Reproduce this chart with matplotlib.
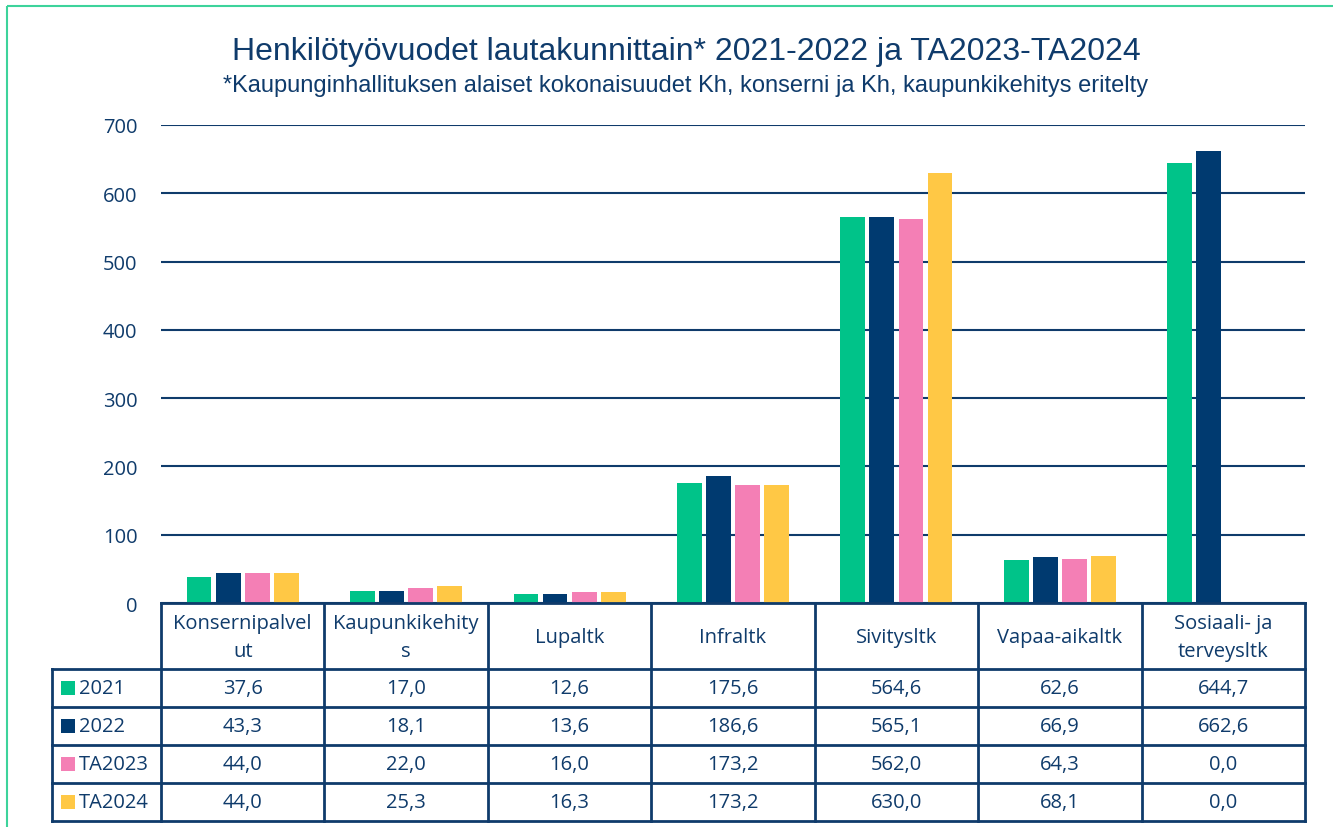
import matplotlib
matplotlib.use("Agg")
import matplotlib.pyplot as plt
from matplotlib.patches import Rectangle
import numpy as np

categories = ["Konsernipalvelut", "Kaupunkikehitys", "Lupaltk", "Infraltk",
              "Sivitysltk", "Vapaa-aikaltk", "Sosiaali- ja terveysltk"]
header_labels = ["Konsernipalvel\nut", "Kaupunkikehity\ns", "Lupaltk", "Infraltk",
                 "Sivitysltk", "Vapaa-aikaltk", "Sosiaali- ja\nterveysltk"]
series_names = ["2021", "2022", "TA2023", "TA2024"]
v2021 = [37.6, 17.0, 12.6, 175.6, 564.6, 62.6, 644.7]
v2022 = [43.3, 18.1, 13.6, 186.6, 565.1, 66.9, 662.6]
vTA2023 = [44.0, 22.0, 16.0, 173.2, 562.0, 64.3, 0.0]
vTA2024 = [44.0, 25.3, 16.3, 173.2, 630.0, 68.1, 0.0]
yticks = [0, 100, 200, 300, 400, 500, 600, 700]

series = [v2021, v2022, vTA2023, vTA2024]
colors = ["#00C389", "#003A70", "#F47FB5", "#FFC845"]
navy = "#0F3B6B"
W, H = 1333, 828
fig = plt.figure(figsize=(W / 100, H / 100), dpi=100)

x0, x1 = 161, 1305
ytop, ybot = 126, 604
ax = fig.add_axes([x0 / W, 1 - ybot / H, (x1 - x0) / W, (ybot - ytop) / H])
n = len(categories)
x = np.arange(n)
spacing = 0.178
bw = 0.152
for k, (vals, c) in enumerate(zip(series, colors)):
    ax.bar(x + (k - 1.5) * spacing, vals, width=bw, color=c, zorder=3)
ax.set_xlim(-0.5, n - 0.5)
ax.set_ylim(0, 700)
ax.set_yticks(yticks)
ax.set_yticklabels([str(t) for t in yticks], fontfamily="Open Sans", fontsize=14.5, color=navy)
ax.tick_params(axis="y", length=0, pad=17)
ax.set_xticks([])
for s in ax.spines.values():
    s.set_visible(False)
ax.grid(axis="y", color=navy, linewidth=1.5, zorder=0)
ax.set_facecolor("none")

# overlay in pixel coordinates for table, title, border
ov = fig.add_axes([0, 0, 1, 1], zorder=5)
ov.set_xlim(0, W)
ov.set_ylim(H, 0)
ov.axis("off")
ov.patch.set_alpha(0)

# border
ov.add_patch(Rectangle((7, 7), W + 10, H + 10, fill=False, edgecolor="#3DD39B", linewidth=1.5))

# titles
ov.text(686, 52, "Henkilötyövuodet lautakunnittain* 2021-2022 ja TA2023-TA2024",
        ha="center", va="center", fontfamily="Liberation Sans", fontsize=23, color=navy)
ov.text(686, 86, "*Kaupunginhallituksen alaiset kokonaisuudet Kh, konserni ja Kh, kaupunkikehitys eritelty",
        ha="center", va="center", fontfamily="Liberation Sans", fontsize=17, color=navy)

# table
colw = (x1 - x0) / n
tleft = 52
hdr_bot = 670
row_h = 38
tbot = hdr_bot + row_h * len(series)
lw = 2.0
ov.plot([x0, x1], [ybot, ybot], color=navy, lw=lw, solid_capstyle="projecting")
for i in range(n + 1):
    xx = x0 + i * colw
    ov.plot([xx, xx], [ybot, tbot], color=navy, lw=lw)
ov.plot([tleft, tleft], [hdr_bot, tbot], color=navy, lw=lw)
for r in range(len(series) + 1):
    yy = hdr_bot + r * row_h
    ov.plot([tleft, x1], [yy, yy], color=navy, lw=lw)

tfont = dict(fontfamily="Open Sans", fontsize=14.5, color=navy)
for i, lab in enumerate(header_labels):
    ov.text(x0 + (i + 0.5) * colw, (ybot + hdr_bot) / 2 + 1, lab, ha="center", va="center",
            linespacing=1.5, **tfont)
for r, (name, vals, c) in enumerate(zip(series_names, series, colors)):
    yc = hdr_bot + (r + 0.5) * row_h
    ov.add_patch(Rectangle((61, yc - 7), 14, 14, facecolor=c, edgecolor="none"))
    ov.text(79, yc, name, ha="left", va="center", **tfont)
    for i, v in enumerate(vals):
        ov.text(x0 + (i + 0.5) * colw, yc, f"{v:.1f}".replace(".", ","), ha="center",
                va="center", **tfont)

fig.savefig("out.png", dpi=100)
